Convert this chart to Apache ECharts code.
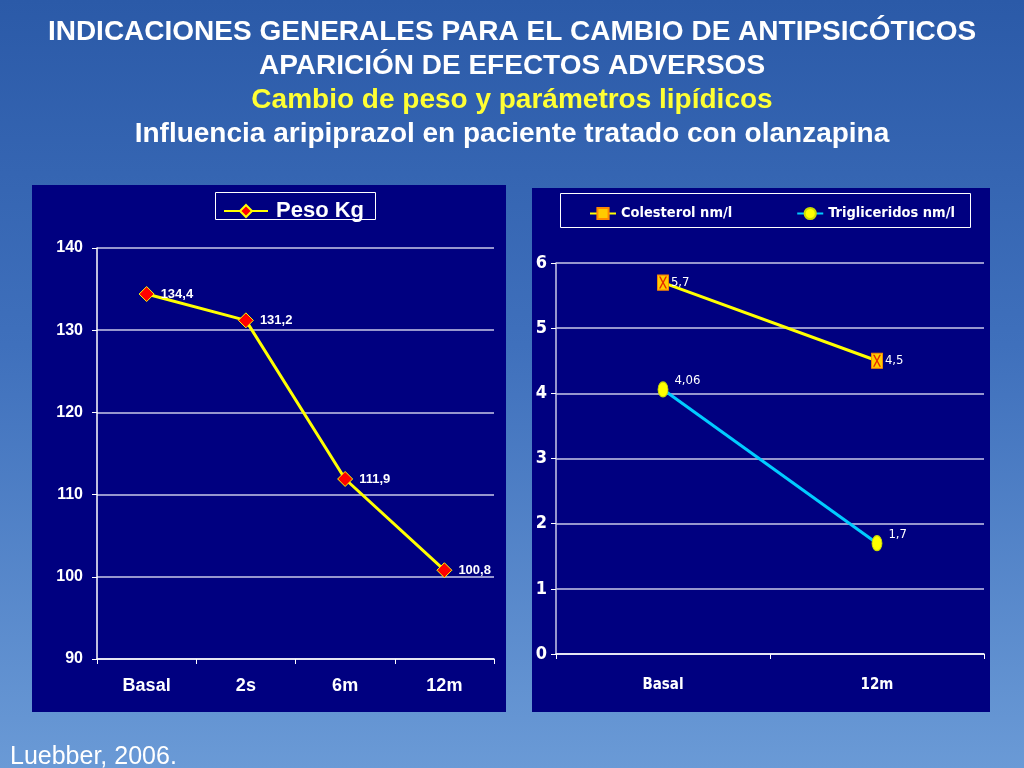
<!DOCTYPE html>
<html><head><meta charset="utf-8">
<script src="https://cdn.jsdelivr.net/npm/echarts@6/dist/echarts.min.js"></script>
<style>
html,body{margin:0;padding:0;width:1024px;height:768px;overflow:hidden;
background:linear-gradient(to bottom,#2b5aa8 0%,#3f70bc 45%,#6a9ad6 100%);}
#c{width:1024px;height:768px;}
</style></head><body><div id="c"></div>
<script>
const titleLines = ['INDICACIONES GENERALES PARA EL CAMBIO DE ANTIPSICÓTICOS','APARICIÓN DE EFECTOS ADVERSOS','Cambio de peso y parámetros lipídicos','Influencia aripiprazol en paciente tratado con olanzapina'];
const source = 'Luebber, 2006.';
const pesoCats = ['Basal','2s','6m','12m'];
const pesoVals = [134.4,131.2,111.9,100.8];
const pesoName = 'Peso Kg';
const lipCats = ['Basal','12m'];
const colVals = [5.7,4.5];
const triVals = [4.06,1.7];
const colName = 'Colesterol nm/l';
const triName = 'Trigliceridos nm/l';

const fmt = p => String(p.value).replace('.', ',');
const narrow = "'DejaVu Sans Condensed',sans-serif";
const arial = "'Liberation Sans',Arial,sans-serif";
const chart = echarts.init(document.getElementById('c'));
const tcol = ['#ffffff','#ffffff','#ffff33','#ffffff'];
const ty = [31,65,99,133];
chart.setOption({
  backgroundColor:'transparent',
  animation:false,
  graphic:[
    ...titleLines.map((t,i)=>({type:'text',left:'center',top:ty[i]-13,z:5,
      style:{text:t,fill:tcol[i],font:'bold 28px '+arial}})),
    {type:'text',left:10,top:745,style:{text:source,fill:'#ffffff',font:'25px '+arial}},
    {type:'rect',shape:{x:32,y:185,width:474,height:527},style:{fill:'#000080'},z:-1},
    {type:'rect',shape:{x:532,y:188,width:458,height:524},style:{fill:'#000080'},z:-1},
    {type:'rect',shape:{x:215.5,y:192.5,width:160,height:27},style:{fill:'#000080',stroke:'#ffffff',lineWidth:1},z:0},
    {type:'rect',shape:{x:560.5,y:193.5,width:410,height:34},style:{fill:'#000080',stroke:'#ffffff',lineWidth:1},z:0}
  ],
  legend:[
    {data:[pesoName],left:218,top:195,itemWidth:44,itemHeight:15,itemGap:6,
     textStyle:{color:'#ffffff',fontWeight:'bold',fontSize:22,fontFamily:arial,padding:[0,0,0,3]}},
    {data:[colName,triName],left:584,top:201,itemWidth:26,itemHeight:14,itemGap:64,
     textStyle:{color:'#ffffff',fontWeight:'bold',fontSize:14.5,fontFamily:narrow}}
  ],
  grid:[
    {left:97,right:530,top:248,bottom:109},
    {left:556,right:40,top:263,bottom:114}
  ],
  xAxis:[
    {type:'category',gridIndex:0,data:pesoCats,boundaryGap:true,
     axisLine:{lineStyle:{color:'#ffffff',width:1.5}},
     axisTick:{show:true,length:5,lineStyle:{color:'#ffffff'}},
     axisLabel:{color:'#ffffff',fontWeight:'bold',fontSize:18,fontFamily:arial,margin:18}},
    {type:'category',gridIndex:1,data:lipCats,boundaryGap:true,
     axisLine:{lineStyle:{color:'#ffffff',width:1.5}},
     axisTick:{show:true,length:5,lineStyle:{color:'#ffffff'}},
     axisLabel:{color:'#ffffff',fontWeight:'bold',fontSize:15,fontFamily:narrow,margin:24}}
  ],
  yAxis:[
    {type:'value',gridIndex:0,min:90,max:140,interval:10,
     axisLine:{show:true,lineStyle:{color:'#ffffff',width:1.5}},
     axisTick:{show:true,length:5,lineStyle:{color:'#ffffff'}},
     splitLine:{lineStyle:{color:'#c8c8e8',width:1.5}},
     axisLabel:{color:'#ffffff',fontWeight:'bold',fontSize:16,fontFamily:arial,margin:14}},
    {type:'value',gridIndex:1,min:0,max:6,interval:1,
     axisLine:{show:true,lineStyle:{color:'#c8c8e8',width:1.5}},
     axisTick:{show:true,length:5,lineStyle:{color:'#ffffff'}},
     splitLine:{lineStyle:{color:'#c8c8e8',width:1.5}},
     axisLabel:{color:'#ffffff',fontWeight:'bold',fontSize:18,fontFamily:narrow,margin:9}}
  ],
  series:[
    {name:pesoName,type:'line',xAxisIndex:0,yAxisIndex:0,data:pesoVals,
     symbol:'diamond',symbolSize:15,
     lineStyle:{color:'#ffff00',width:3},
     itemStyle:{color:'#ff0000',borderColor:'#ffff00',borderWidth:1},
     label:{show:true,position:'right',distance:6,formatter:fmt,color:'#ffffff',fontWeight:'bold',fontSize:13,fontFamily:arial}},
    {name:colName,type:'line',xAxisIndex:1,yAxisIndex:1,data:colVals,
     symbol:'rect',symbolSize:[11,15],
     lineStyle:{color:'#ffff00',width:3},
     itemStyle:{color:'#ffcc00',borderColor:'#ff8800',borderWidth:1},
     label:{show:true,position:'right',distance:2,formatter:fmt,color:'#ffffff',fontSize:13,fontFamily:narrow}},
    {type:'scatter',xAxisIndex:1,yAxisIndex:1,data:colVals,silent:true,z:4,
     symbol:'path://M0,0L2,0L5,4L8,0L10,0L6,5L10,10L8,10L5,6L2,10L0,10L4,5Z',symbolSize:[8,12],
     itemStyle:{color:'#e00000'}},
    {name:triName,type:'line',xAxisIndex:1,yAxisIndex:1,data:triVals,
     symbol:'circle',symbolSize:[10,15],
     lineStyle:{color:'#00ccff',width:3},
     itemStyle:{color:'#ffff00',borderColor:'#ccdd00',borderWidth:1},
     label:{show:true,position:'right',distance:6,offset:[0,-9],formatter:fmt,color:'#ffffff',fontSize:13,fontFamily:narrow}}
  ]
});
</script></body></html>
